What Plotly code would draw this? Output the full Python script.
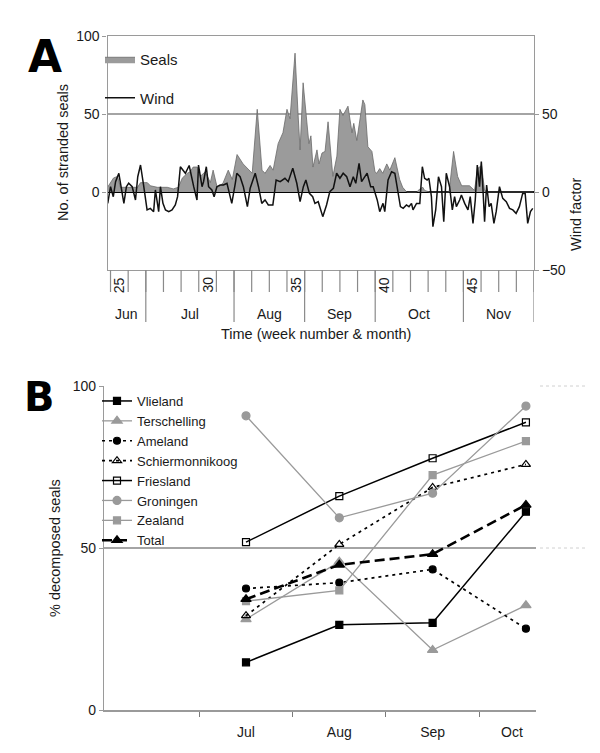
import plotly.graph_objects as go

W, H = 600, 753
FONT = "Liberation Sans, Arial, sans-serif"

# ---------------- Panel A data (days counted from the left edge of the axis) ----------------
seal_day = [0.0, 2.4, 4.0, 5.1, 6.3, 8.3, 10.3, 11.9, 13.1, 15.8,
            17.0, 19.8, 23.7, 26.1, 28.1, 29.7, 31.7, 32.8, 34.0, 35.6,
            36.8, 38.8, 40.8, 41.9, 43.5, 44.7, 45.9, 47.9, 49.5, 51.4,
            53.8, 57.4, 59.4, 61.3, 62.5, 64.5, 65.7, 67.7, 69.6, 71.2,
            72.4, 74.4, 75.6, 76.4, 77.6, 79.1, 79.9, 80.7, 81.5, 83.1,
            83.9, 85.1, 86.3, 87.5, 88.6, 89.4, 91.0, 92.2, 93.4, 95.4,
            97.0, 97.7, 98.9, 101.3, 102.1, 103.3, 104.9, 106.1, 106.8, 108.0,
            109.2, 110.8, 112.0, 114.0, 115.9, 117.1, 118.7, 122.7, 123.9, 125.1,
            125.8, 127.8, 134.5, 135.5, 137.3, 138.9, 140.5, 143.6, 145.6, 146.8,
            148.4, 149.6, 150.8, 169.0]
seal_count = [3, 9, 10, 3, 3, 3, 3, 3, 6, 6,
              4, 3, 3, 2, 3, 9, 12, 13, 16, 16,
              10, 13, 6, 14, 3, 4, 6, 14, 8, 24,
              18, 12, 53, 14, 12, 17, 14, 31, 38, 53,
              47, 89, 50, 27, 70, 44, 31, 36, 16, 27,
              18, 25, 26, 45, 23, 10, 23, 53, 49, 55,
              38, 44, 33, 59, 56, 29, 26, 13, 12, 15,
              12, 18, 14, 22, 8, 3, 0, 0, 2, 3,
              1, 0, 0, 0, 26, 10, 4, 4, 1, 15,
              17, 1, 0, 0]

wind_day = [0.1, 1.2, 2.3, 3.2, 4.5, 5.4, 6.5, 7.5, 8.4, 9.8,
            11.1, 12.0, 13.1, 14.4, 15.7, 17.0, 18.3, 19.0, 20.3, 21.0,
            22.0, 23.0, 24.3, 25.6, 26.9, 27.8, 28.9, 30.9, 32.4, 34.2,
            35.5, 36.1, 37.5, 38.1, 39.2, 40.1, 41.4, 42.3, 43.4, 44.7,
            46.0, 47.4, 49.3, 50.7, 51.3, 52.6, 53.9, 55.5, 56.6, 58.6,
            59.9, 61.2, 62.5, 63.8, 65.6, 66.9, 68.5, 70.4, 71.7, 73.5,
            75.1, 76.4, 77.7, 78.7, 80.1, 81.4, 82.3, 83.6, 85.4, 86.9,
            88.2, 89.6, 90.9, 92.2, 93.5, 94.9, 96.2, 97.5, 98.5, 99.8,
            100.8, 102.1, 103.0, 104.4, 105.4, 107.0, 108.0, 109.3, 110.0, 111.3,
            112.7, 114.0, 115.3, 116.2, 117.3, 118.6, 119.6, 120.6, 121.2, 122.6,
            123.9, 124.9, 125.8, 126.8, 127.5, 128.5, 129.1, 130.2, 131.3, 132.5,
            133.4, 134.4, 135.7, 136.8, 137.7, 138.4, 139.7, 140.4, 141.7, 143.0,
            143.9, 145.0, 145.9, 146.7, 147.6, 148.3, 148.9, 149.6, 150.4, 151.4,
            152.2, 153.3, 154.2, 155.5, 156.8, 158.2, 159.5, 160.8, 162.1, 163.4,
            164.7, 165.7, 166.7, 167.8, 168.7]
wind_factor = [-7.3, 3.4, -3.0, 6.6, 12.0, 3.4, -7.3, 3.4, 5.6, 3.4,
               -5.1, 9.8, 17.3, 3.4, -11.5, -10.5, -12.6, 1.3, -12.6, 3.4,
               -7.3, -11.5, -12.6, -11.5, -8.3, -3.0, 16.2, 12.0, 17.0, 3.4,
               -5.1, 17.3, 3.4, 6.6, 16.2, 3.4, 1.3, -3.0, 3.4, 4.5,
               4.5, 5.6, -7.3, 5.6, 12.0, 9.8, 3.4, -9.4, 2.4, 12.0,
               3.4, -7.3, -5.1, -8.3, -8.3, 7.7, 6.6, 8.8, 6.6, 15.2,
               5.6, -6.2, 3.4, 7.7, -0.9, -3.0, -7.3, -6.2, -15.8, -8.3,
               0.2, 2.4, 12.0, 8.8, 12.0, 9.8, 3.4, 9.8, 5.6, 18.4,
               6.6, 9.8, 12.0, 3.4, 3.4, -5.1, -12.6, -7.3, -12.6, 7.7,
               13.0, 12.0, -1.9, -9.4, -10.5, -8.3, -9.4, -7.3, -11.5, -7.3,
               -7.3, 16.2, 8.8, 7.7, 8.8, -3.0, -22.2, -11.5, 9.8, 3.4,
               -19.0, 12.0, 3.4, -11.5, -3.0, -9.4, -5.1, -1.9, -7.3, -11.5,
               -3.0, -20.1, -5.1, 17.3, 3.4, 19.5, 3.4, -19.0, 4.5, -9.4,
               -7.3, -20.1, -12.6, 3.4, -4.1, -6.2, -10.5, -11.5, -13.7, -9.4,
               -0.9, -0.9, -20.1, -12.6, -10.5]

first_week = 25
last_week = 48
week_start_offset = 1.2          # day on which week 25 begins
labelled_weeks = [25, 30, 35, 40, 45]
months_a = ["Jun", "Jul", "Aug", "Sep", "Oct", "Nov"]
month_first_week = [24, 27, 32, 36, 40, 45]

# ---------------- Panel B data ----------------
months_b = ["Jul", "Aug", "Sep", "Oct"]
vlieland = [14.7, 26.3, 26.9, 61.2]
terschelling = [28.0, 45.8, 18.5, 32.3]
ameland = [37.5, 39.3, 43.4, 25.1]
schiermonnikoog = [29.1, 51.1, 68.7, 75.8]
friesland = [51.8, 66.0, 77.7, 88.8]
groningen = [90.8, 59.3, 66.9, 93.8]
zealand = [33.6, 36.9, 72.5, 83.0]
total = [34.2, 44.8, 48.1, 63.3]


def px(x):
    return x / W


def py(y):
    return 1 - y / H


def week_day(w):
    return week_start_offset + 7 * (w - first_week)


day_end = week_day(last_week + 1)

fig = go.Figure()

# ---- Panel A traces ----
fig.add_trace(go.Scatter(
    x=seal_day, y=seal_count, name="Seals", mode="lines",
    fill="tozeroy", fillcolor="#9b9b9b",
    line=dict(color="#6a6a6a", width=0.8),
    xaxis="x", yaxis="y", legend="legend", legendgroup="seals"))
fig.add_trace(go.Scatter(
    x=wind_day, y=wind_factor, name="Wind", mode="lines",
    line=dict(color="#111111", width=1.5),
    xaxis="x", yaxis="y2", legend="legend", legendgroup="wind"))

# ---- Panel B traces ----
xb = [i + 1 for i in range(len(months_b))]
GRAY = "#9a9a9a"
specs = [
    ("Vlieland", vlieland, "#000000", "solid", 1.5, "square", 7),
    ("Terschelling", terschelling, GRAY, "solid", 1.3, "triangle-up", 9),
    ("Ameland", ameland, "#000000", "3px,4px", 1.7, "circle", 7),
    ("Schiermonnikoog", schiermonnikoog, "#000000", "3px,4px", 1.7, "triangle-up-open", 8),
    ("Friesland", friesland, "#000000", "solid", 1.5, "square-open", 7),
    ("Groningen", groningen, GRAY, "solid", 1.3, "circle", 8),
    ("Zealand", zealand, GRAY, "solid", 1.3, "square", 7),
    ("Total", total, "#000000", "10px,5px", 2.6, "triangle-up", 9),
]
for name, vals, col, dash, wd, sym, sz in specs:
    fig.add_trace(go.Scatter(
        x=xb, y=vals, name=name, mode="lines+markers",
        line=dict(color=col, width=wd, dash=dash),
        marker=dict(symbol=sym, size=sz, color=col, line=dict(color=col, width=1.2)),
        xaxis="x3", yaxis="y3", legend="legend2"))

tickfont = dict(family=FONT, size=14, color="#1a1a1a")
AX = "#9a9a9a"

fig.update_layout(
    width=W, height=H,
    margin=dict(l=0, r=0, t=0, b=0),
    paper_bgcolor="white", plot_bgcolor="white",
    font=dict(family=FONT, size=14, color="#1a1a1a"),
    xaxis=dict(domain=[px(107.5), px(534)], range=[0, day_end], anchor="y",
               showticklabels=False, ticks="", showgrid=False, zeroline=False,
               showline=True, linecolor=AX, linewidth=1.2, mirror=True,
               automargin=False),
    yaxis=dict(domain=[py(270), py(36)], range=[-50, 100], tickvals=[0, 50, 100],
               anchor="x", showgrid=True, gridcolor="#a4a4a4", gridwidth=1.5,
               zeroline=True, zerolinecolor="#000000", zerolinewidth=1.5,
               showline=True, linecolor=AX, linewidth=1.2,
               ticks="outside", ticklen=4, tickcolor=AX,
               tickfont=tickfont, automargin=False),
    yaxis2=dict(overlaying="y", side="right", anchor="x", range=[-50, 100],
                tickvals=[-50, 0, 50], showgrid=False, zeroline=False,
                showline=True, linecolor=AX, linewidth=1.2,
                ticks="outside", ticklen=4, tickcolor=AX,
                tickfont=tickfont, automargin=False),
    xaxis3=dict(domain=[px(104), px(536)], range=[-0.522, 4.108], anchor="y3",
                tickvals=[1, 2, 3, 3.85], ticktext=months_b, ticks="",
                ticklabelstandoff=8,
                minor=dict(tickvals=[0.5, 1.5, 2.5, 3.5], ticks="outside",
                           ticklen=5, tickcolor="#7a7a7a", tickwidth=1.2, showgrid=False),
                showgrid=False, zeroline=False,
                showline=True, linecolor=AX, linewidth=1.5,
                tickfont=tickfont, automargin=False),
    yaxis3=dict(domain=[py(710), py(386)], range=[0, 100], tickvals=[0, 50, 100],
                anchor="x3", showgrid=True, gridcolor="#a4a4a4", gridwidth=1.5,
                zeroline=False, showline=True, linecolor=AX, linewidth=1.2,
                ticks="outside", ticklen=4, tickcolor=AX,
                tickfont=tickfont, automargin=False),
    legend=dict(x=px(100), y=py(43), xanchor="left", yanchor="top",
                bgcolor="rgba(0,0,0,0)", font=dict(family=FONT, size=15),
                itemwidth=30, tracegroupgap=16, traceorder="grouped"),
    legend2=dict(x=px(97), y=py(386), xanchor="left", yanchor="top",
                 bgcolor="rgba(0,0,0,0)", font=dict(family=FONT, size=13),
                 itemwidth=30, tracegroupgap=0),
)

shapes = []
# week separators below panel A
for w in range(first_week, last_week + 2):
    shapes.append(dict(type="line", xref="x", yref="paper",
                       x0=week_day(w), x1=week_day(w), y0=py(270), y1=py(292),
                       line=dict(color="#8a8a8a", width=1.2)))
# month separators
for w in month_first_week[1:] + [last_week + 1]:
    shapes.append(dict(type="line", xref="x", yref="paper",
                       x0=week_day(w), x1=week_day(w), y0=py(270), y1=py(322),
                       line=dict(color="#8a8a8a", width=1.2)))
# faint dotted extensions of panel B gridlines
for yv in (386, 548):
    shapes.append(dict(type="line", xref="paper", yref="paper",
                       x0=px(540), x1=px(585), y0=py(yv), y1=py(yv),
                       line=dict(color="#d0d0d0", width=1, dash="dot")))
fig.update_layout(shapes=shapes)

C = dict(xanchor="center", yanchor="middle", showarrow=False)
ann = []
for w in labelled_weeks:
    ann.append(dict(x=week_day(w) + 3.5, y=py(285), xref="x", yref="paper",
                    text=str(w), textangle=-90,
                    font=dict(family=FONT, size=14, color="#1a1a1a"), **C))
for i, m in enumerate(months_a):
    start = max(0, week_day(month_first_week[i]))
    end = week_day(month_first_week[i + 1]) if i + 1 < len(months_a) else day_end
    ann.append(dict(x=(start + end) / 2, y=py(314), xref="x", yref="paper",
                    text=m, font=dict(family=FONT, size=14, color="#1a1a1a"), **C))
ann += [
    dict(x=px(316), y=py(334), xref="paper", yref="paper",
         text="Time (week number & month)", font=dict(family=FONT, size=14.5), **C),
    dict(x=px(63), y=py(153), xref="paper", yref="paper",
         text="No. of stranded seals", textangle=-90, font=dict(family=FONT, size=14.5), **C),
    dict(x=px(576), y=py(214), xref="paper", yref="paper",
         text="Wind factor", textangle=-90, font=dict(family=FONT, size=14.5), **C),
    dict(x=px(55), y=py(548), xref="paper", yref="paper",
         text="% decomposed seals", textangle=-90, font=dict(family=FONT, size=14.5), **C),
    dict(x=px(45), y=py(56), xref="paper", yref="paper", text="<b>A</b>",
         font=dict(family="DejaVu Sans, Liberation Sans", size=44, color="#000"), **C),
    dict(x=px(39), y=py(397), xref="paper", yref="paper", text="<b>B</b>",
         font=dict(family="DejaVu Sans, Liberation Sans", size=40, color="#000"), **C),
]
fig.update_layout(annotations=ann)

fig.write_html("out.html", config={"displayModeBar": False},
               post_script="document.body.style.margin='0px';")
